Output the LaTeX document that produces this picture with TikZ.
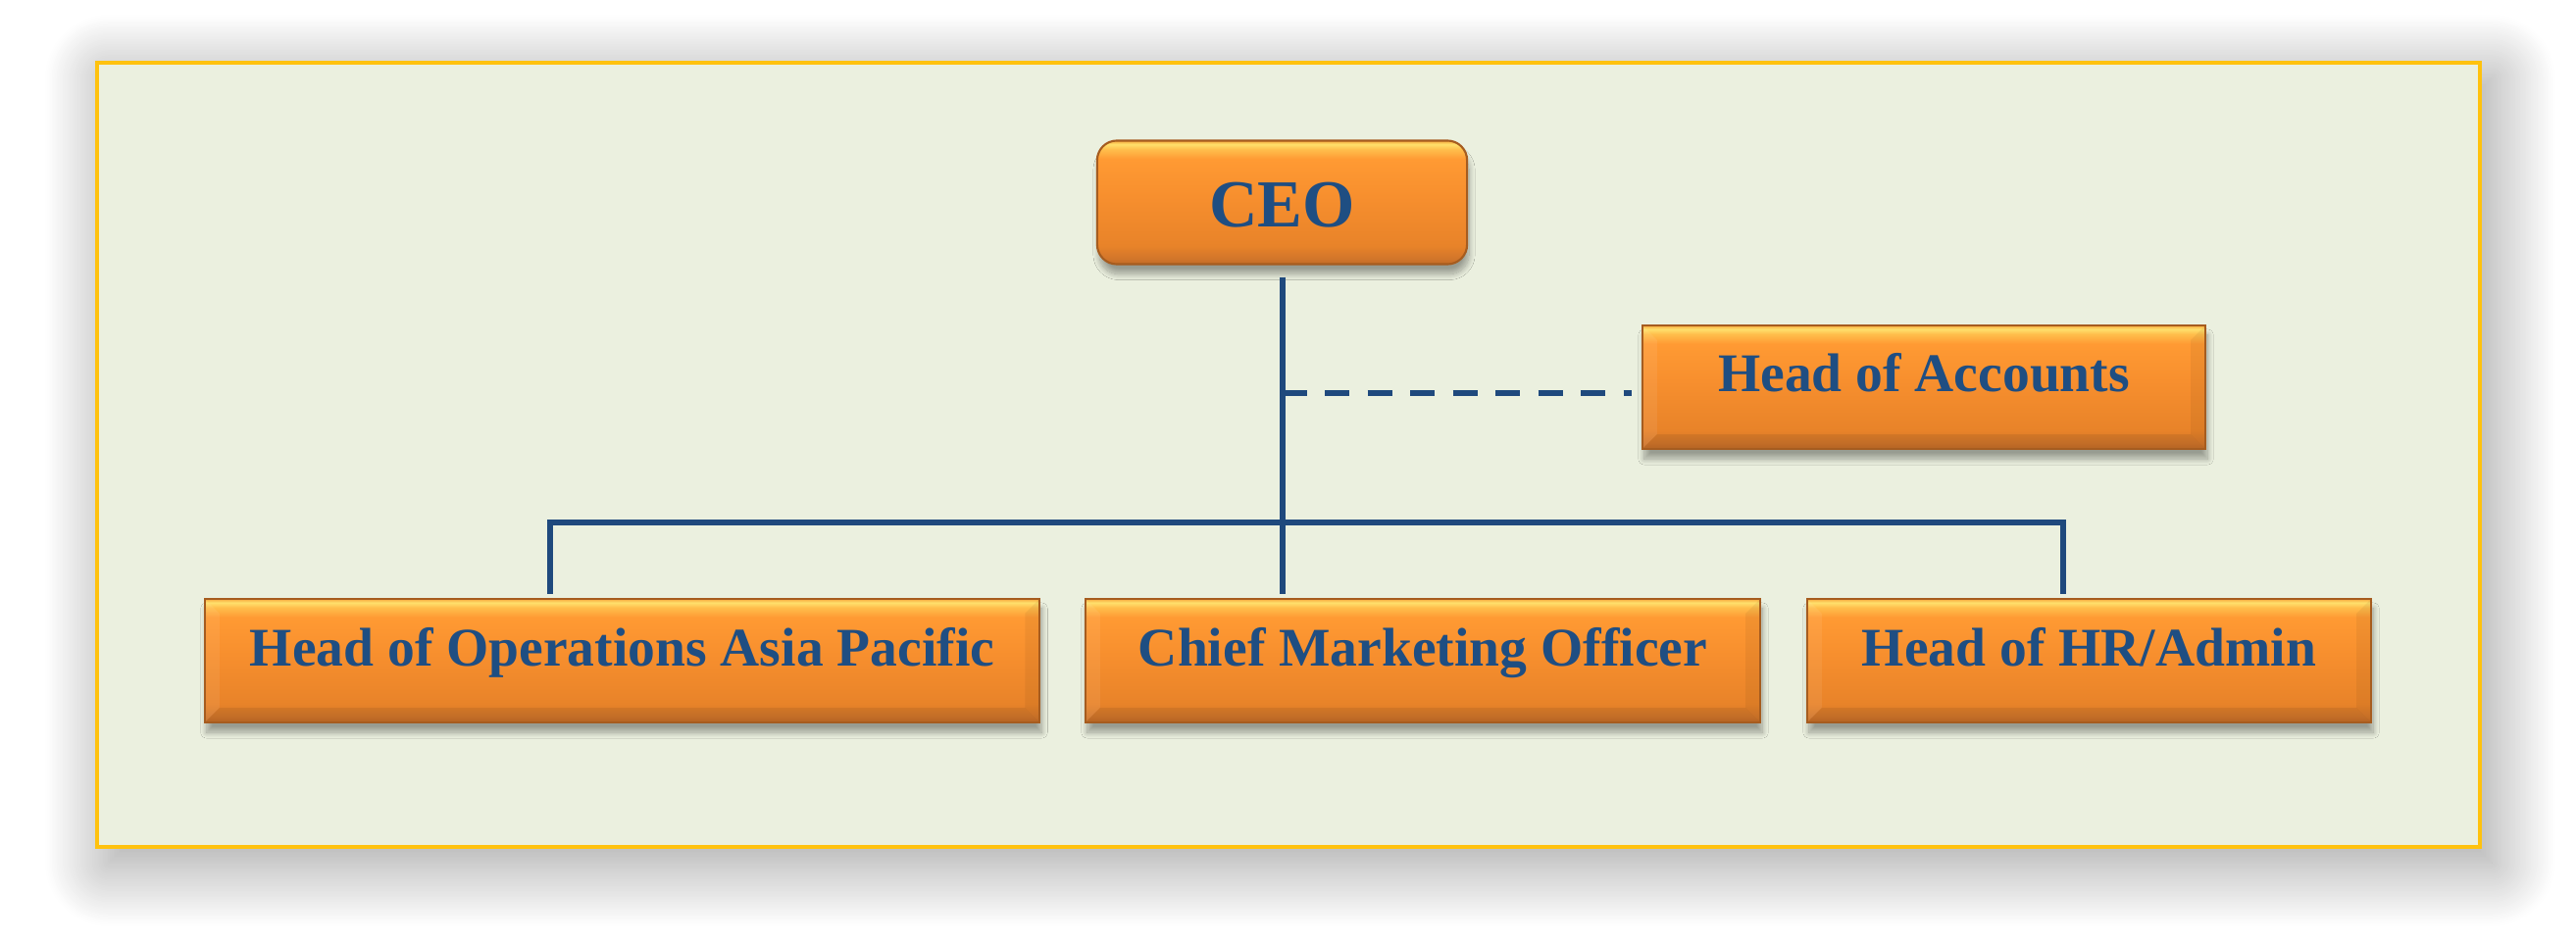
\documentclass[tikz,border=0pt]{standalone}
\usepackage{fontspec}
\setmainfont{Liberation Serif}
\usetikzlibrary{shadows.blur, positioning}

\definecolor{panelfill}{HTML}{EBF0DF}
\definecolor{panelrim}{HTML}{FFC20E}
\definecolor{linkblue}{HTML}{1F497D}
\definecolor{textblue}{HTML}{1F4E82}
\definecolor{boxrim}{HTML}{A65C1F}
\definecolor{orlow}{HTML}{C26B27}
\definecolor{orlowb}{HTML}{D2762A}
\definecolor{ormid}{HTML}{E88329}
\definecolor{orbody}{HTML}{F78F2E}
\definecolor{ortop}{HTML}{FF9A33}
\definecolor{orglow}{HTML}{FFBE4C}
\definecolor{orhigh}{HTML}{FFE06C}
\definecolor{oredge}{HTML}{F7A83C}

% box fill, the path covers 25bp--75bp
\pgfdeclareverticalshading{orangebox}{100bp}{
  color(0bp)=(orlow); color(25bp)=(orlow); color(27.5bp)=(orlowb);
  color(32.5bp)=(ormid); color(52.5bp)=(orbody); color(67.5bp)=(ortop);
  color(71.5bp)=(orglow); color(73.5bp)=(orhigh); color(75bp)=(oredge);
  color(100bp)=(oredge)}

\begin{document}
\begin{tikzpicture}[x=0.01cm, y=-0.01cm,
    orgbox/.style={shading=orangebox, draw=boxrim, line width=0.6pt,
      text=textblue, font=\bfseries\fontsize{15.8}{19}\selectfont,
      inner sep=0pt, minimum height=1.26cm, text height=0.4cm, text depth=0.3cm,
      blur shadow={shadow xshift=0.02cm, shadow yshift=-0.1cm,
        shadow blur radius=0.06cm, shadow blur steps=12, shadow opacity=35}},
    ceobox/.style={orgbox, rounded corners=0.2cm, text height=0.5cm, text depth=0cm,
      font=\bfseries\fontsize{19.5}{23}\selectfont},
    bevelbox/.style={orgbox, path picture={
      \fill[white, opacity=0.07] (path picture bounding box.north west)
        -- (path picture bounding box.south west) -- ++(0.15cm,0.15cm)
        -- ([xshift=0.15cm, yshift=-0.15cm]path picture bounding box.north west) -- cycle;
      \fill[black, opacity=0.05] (path picture bounding box.north east)
        -- (path picture bounding box.south east) -- ++(-0.15cm,0.15cm)
        -- ([xshift=-0.15cm, yshift=-0.15cm]path picture bounding box.north east) -- cycle;
      \fill[black, opacity=0.07] (path picture bounding box.south west)
        -- (path picture bounding box.south east) -- ++(-0.15cm,0.15cm)
        -- ([xshift=0.15cm, yshift=0.15cm]path picture bounding box.south west) -- cycle;
    }},
    orgline/.style={draw=linkblue, line width=0.06cm},
    dashlink/.style={orgline, dash pattern=on 0.25cm off 0.185cm}]
        \useasboundingbox (0, 0) rectangle (2627, 961);
        
        \fill[panelfill, draw=panelrim, line width=0.04cm,
            blur shadow={shadow xshift=0.12cm, shadow yshift=-0.16cm,
              shadow blur radius=0.65cm, shadow blur steps=40, shadow opacity=40}]
            (99, 64) rectangle (2529, 864);
        
        \node[ceobox, minimum width=3.77cm] (ceo) at (1307.5, 206.5) {CEO};
        \node[bevelbox, minimum width=5.74cm] (acc) at (1962, 395) {Head of Accounts};
        \node[bevelbox, minimum width=8.51cm] (ops) at (634.5, 674) {Head of Operations Asia Pacific};
        \node[bevelbox, minimum width=6.88cm] (cmo) at (1451, 674) {Chief Marketing Officer};
        \node[bevelbox, minimum width=5.75cm] (hr) at (2130.5, 674) {Head of HR/Admin};
        
        \coordinate (opsdrop) at (561, 533);
        \coordinate (hrdrop) at (2104, 533);
        \coordinate (accjoin) at (1307.5, 401);
        
        \draw[orgline, shorten <=0.12cm, shorten >=0.04cm] (ceo.south) to (ceo.south |- cmo.north);
        \draw[orgline, shorten <=0.04cm, shorten >=0.04cm] (opsdrop |- ops.north) -- (opsdrop)
            -- (hrdrop) -- (hrdrop |- hr.north);
        \draw[dashlink, shorten >=0.1cm] (accjoin) to (accjoin -| acc.west);
    \end{tikzpicture}
\end{document}
